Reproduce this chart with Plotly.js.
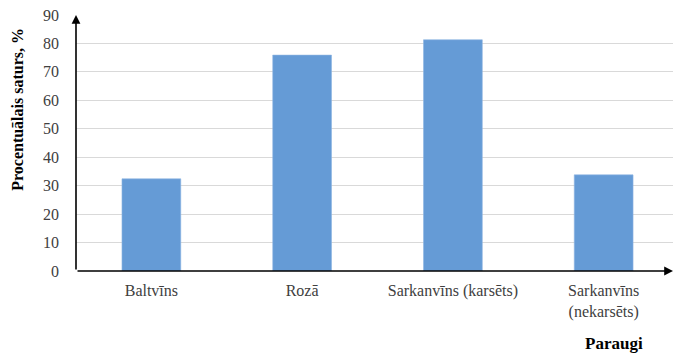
<!DOCTYPE html>
<html>
<head>
<meta charset="utf-8">
<script src="https://cdn.plot.ly/plotly-3.0.1.min.js"></script>
<style>
html,body{margin:0;padding:0;background:#fff;}
#chart{width:673px;height:353px;}
</style>
</head>
<body>
<div id="chart"></div>
<script>
const categories = ["Baltvīns", "Rozā", "Sarkanvīns (karsēts)", "Sarkanvīns<br>(nekarsēts)"];
const values = [32.4, 75.9, 81.3, 33.8];
const yTickVals = [0, 10, 20, 30, 40, 50, 60, 70, 80, 90];
const yTitle = "Procentuālais saturs, %";
const xTitle = "Paraugi";

const serif = "'Liberation Serif'";

const trace = {
  type: "bar",
  x: [0, 1, 2, 3],
  y: values,
  width: 0.39,
  marker: {color: "#659BD6", line: {color: "#8FB6E3", width: 0.6}},
  hoverinfo: "none"
};

const layout = {
  width: 673,
  height: 353,
  margin: {l: 76, r: 0, t: 15, b: 82},
  paper_bgcolor: "#fff",
  plot_bgcolor: "#fff",
  showlegend: false,
  bargap: 0,
  font: {family: serif, size: 15, color: "#404040"},
  xaxis: {
    range: [-0.5, 3.46],
    tickmode: "array",
    tickvals: [0, 1, 2, 3],
    ticktext: categories,
    showgrid: false,
    zeroline: false,
    showline: false,
    ticks: "",
    ticklabelstandoff: 8,
    tickfont: {family: serif, size: 16, color: "#404040"},
    fixedrange: true
  },
  yaxis: {
    range: [0, 90],
    tickmode: "array",
    tickvals: yTickVals,
    showgrid: true,
    gridcolor: "#D9D9D9",
    gridwidth: 1,
    zeroline: false,
    showline: false,
    ticks: "",
    ticklabelstandoff: 16,
    tickfont: {family: serif, size: 16, color: "#404040"},
    fixedrange: true
  },
  annotations: [
    {
      x: 3.46, y: 0, xref: "x", yref: "y",
      ax: -0.5, ay: 0, axref: "x", ayref: "y",
      showarrow: true, arrowhead: 2, arrowsize: 1.1, arrowwidth: 1.6, arrowcolor: "#000",
      text: ""
    },
    {
      x: -0.5, y: 90, xref: "x", yref: "y",
      ax: -0.5, ay: 0, axref: "x", ayref: "y",
      showarrow: true, arrowhead: 2, arrowsize: 1.1, arrowwidth: 1.6, arrowcolor: "#000",
      text: ""
    },
    {
      text: "<b>" + yTitle + "</b>",
      xref: "paper", yref: "paper",
      x: -0.097, y: 0.63, xanchor: "center", yanchor: "middle",
      textangle: -90, showarrow: false,
      font: {family: serif, size: 16, color: "#000"}
    },
    {
      text: "<b>" + xTitle + "</b>",
      xref: "paper", yref: "paper",
      x: 0.902, y: -0.285, xanchor: "center", yanchor: "middle",
      showarrow: false,
      font: {family: serif, size: 17, color: "#000"}
    }
  ]
};

Plotly.newPlot("chart", [trace], layout, {displayModeBar: false, staticPlot: true});
</script>
</body>
</html>
